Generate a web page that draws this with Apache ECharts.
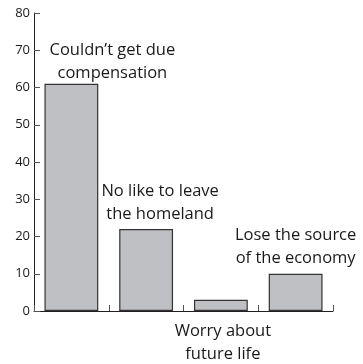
<!DOCTYPE html>
<html><head><meta charset="utf-8">
<script src="https://cdn.jsdelivr.net/npm/echarts@6/dist/echarts.min.js"></script>
<style>html,body{margin:0;padding:0;background:#fff}#c{width:363px;height:364px}</style>
</head><body><div id="c"></div>
<script>
const categories = ["Couldn\u2019t get due\ncompensation", "No like to leave\nthe homeland", "Worry about\nfuture life", "Lose the source\nof the economy"];
const values = [61, 22, 3, 10];
const yTicks = [0, 10, 20, 30, 40, 50, 60, 70, 80];

const labelSettings = [
  {position: 'top', offset: [41, 0], distance: -1},
  {position: 'top', offset: [14, 0], distance: 3},
  {position: 'bottom', offset: [2, 0], distance: 9},
  {position: 'top', offset: [0, 0], distance: 4}
];

const chart = echarts.init(document.getElementById('c'));
chart.setOption({
  animation: false,
  grid: {left: 34, right: 30, top: 13, bottom: 53},
  xAxis: {
    type: 'category',
    data: categories,
    boundaryGap: true,
    axisLine: {lineStyle: {color: '#231f20', width: 1}},
    axisTick: {show: true, inside: true, length: 6, interval: 0, lineStyle: {color: '#555'}},
    axisLabel: {show: false}
  },
  yAxis: {
    type: 'value',
    min: yTicks[0], max: yTicks[yTicks.length - 1], interval: 10,
    axisLine: {show: true, lineStyle: {color: '#231f20', width: 1}},
    axisTick: {show: true, inside: true, length: 6, lineStyle: {color: '#555'}},
    splitLine: {show: false},
    axisLabel: {color: '#1a1a1a', fontSize: 13, fontFamily: 'Open Sans', margin: 4}
  },
  series: [{
    type: 'bar',
    barCategoryGap: '28%',
    data: values.map((v, i) => ({
      value: v,
      label: {
        show: true,
        position: labelSettings[i].position,
        offset: labelSettings[i].offset,
        distance: labelSettings[i].distance,
        formatter: categories[i],
        color: '#1a1a1a',
        fontSize: 16.5,
        lineHeight: 23,
        fontFamily: 'Open Sans',
        align: 'center'
      }
    })),
    itemStyle: {color: '#bfc0c4', borderColor: '#333', borderWidth: 1.2}
  }]
});
</script></body></html>
